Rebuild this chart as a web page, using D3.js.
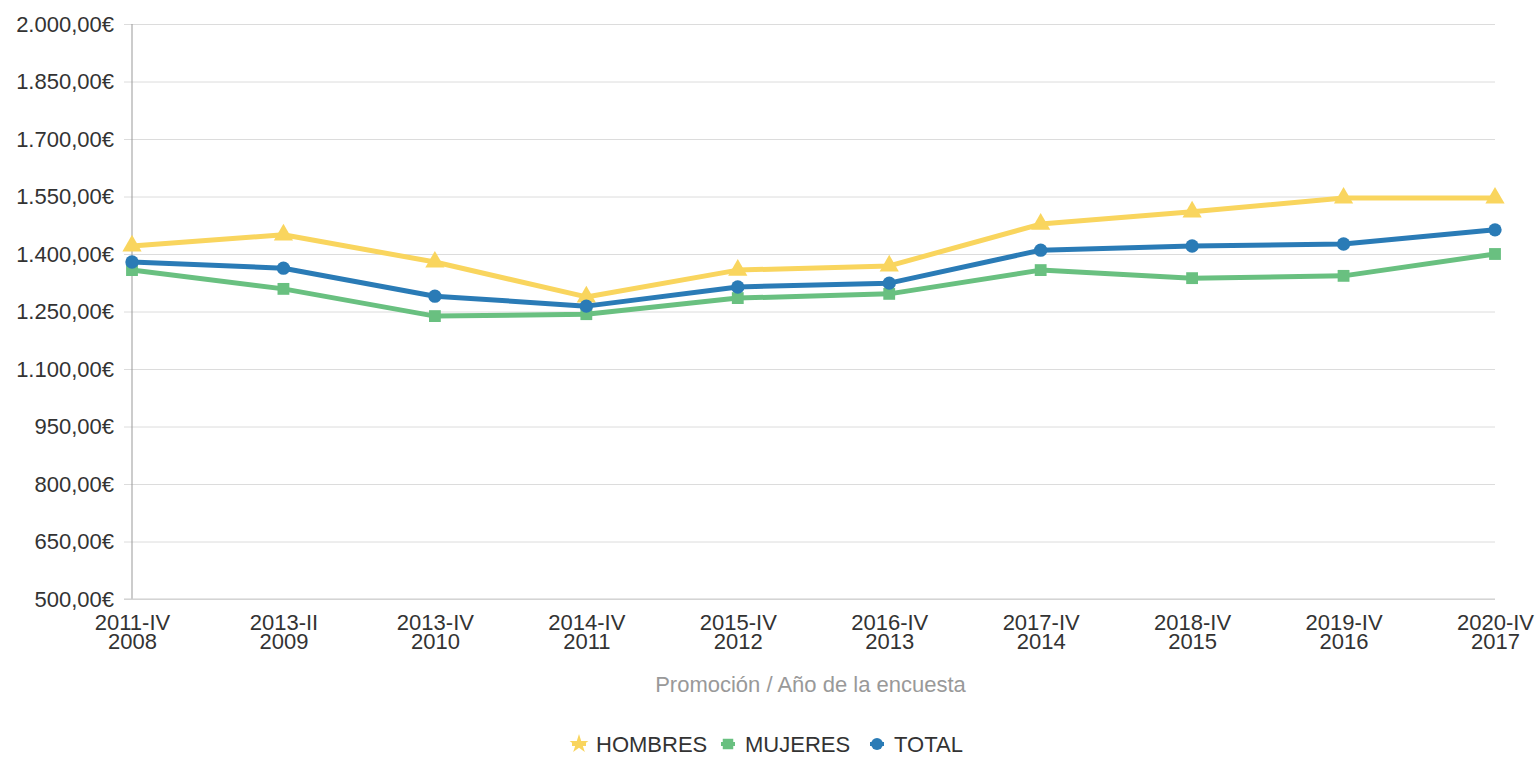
<!DOCTYPE html>
<html>
<head>
<meta charset="utf-8">
<script src="https://cdn.jsdelivr.net/npm/d3@7"></script>
<style>
  body { margin: 0; background: #fff; }
  svg { font-family: "Liberation Sans", Arial, sans-serif; }
</style>
</head>
<body>
<div id="chart"></div>
<script>
var WIDTH = 1536, HEIGHT = 761;
var margin = {top: 24, right: 41, bottom: 162, left: 132};

var categories = ["2011-IV|2008", "2013-II|2009", "2013-IV|2010", "2014-IV|2011", "2015-IV|2012",
  "2016-IV|2013", "2017-IV|2014", "2018-IV|2015", "2019-IV|2016", "2020-IV|2017"];
var hombres = [1421, 1450, 1379, 1288, 1358, 1369, 1478, 1510, 1546, 1546];
var mujeres = [1358, 1309, 1238, 1243, 1285, 1296, 1358, 1337, 1343, 1400];
var total = [1379, 1363, 1290, 1264, 1314, 1324, 1410, 1421, 1426, 1463];
var yTicks = [500, 650, 800, 950, 1100, 1250, 1400, 1550, 1700, 1850, 2000];

var series = [
  {name: "HOMBRES", values: hombres, color: "#f9d55e", symbol: d3.symbolTriangle, legendSymbol: d3.symbolStar},
  {name: "MUJERES", values: mujeres, color: "#69c080", symbol: d3.symbolSquare, legendSymbol: d3.symbolSquare},
  {name: "TOTAL", values: total, color: "#2a7bb6", symbol: d3.symbolCircle, legendSymbol: d3.symbolCircle}
];

var svg = d3.select("#chart").append("svg")
  .attr("width", WIDTH)
  .attr("height", HEIGHT);

var w = WIDTH - margin.left - margin.right;
var h = HEIGHT - margin.top - margin.bottom;

var g = svg.append("g")
  .attr("transform", "translate(" + margin.left + "," + margin.top + ")");

var x = d3.scalePoint().domain(categories).range([0, w]);
var y = d3.scaleLinear().domain([500, 2000]).range([h, 0]);

var fmt = function(v) {
  var s = d3.format(",.2f")(v);
  return s.replace(/,/g, "#").replace(".", ",").replace(/#/g, ".") + "€";
};

// grid + y axis
var yAxis = g.append("g")
  .attr("transform", "translate(-8,0)")
  .call(d3.axisLeft(y).tickValues(yTicks).tickSize(-w - 8).tickFormat(fmt));
yAxis.select(".domain").remove();
yAxis.selectAll(".tick line").attr("stroke", "#dcdcdc");
yAxis.selectAll(".tick text")
  .attr("fill", "#333")
  .attr("x", -10)
  .style("font-size", "22px")
  .style("font-family", "'Liberation Sans', Arial, sans-serif");

g.append("line")
  .attr("x1", 0).attr("x2", 0).attr("y1", 0).attr("y2", h)
  .attr("stroke", "#999").attr("stroke-width", 1);
g.append("line")
  .attr("x1", -8).attr("x2", w).attr("y1", h).attr("y2", h)
  .attr("stroke", "#ccc").attr("stroke-width", 1);

// x axis, two-line labels
var xAxis = g.append("g")
  .attr("transform", "translate(0," + h + ")")
  .call(d3.axisBottom(x).tickSize(0).tickFormat(""));
xAxis.select(".domain").remove();
xAxis.selectAll(".tick").each(function(d) {
  var parts = d.split("|");
  var t = d3.select(this).append("text")
    .attr("fill", "#333")
    .attr("text-anchor", "middle")
    .style("font-size", "22px")
    .style("font-family", "'Liberation Sans', Arial, sans-serif");
  t.append("tspan").attr("x", 0).attr("y", 31).text(parts[0]);
  t.append("tspan").attr("x", 0).attr("y", 50).text(parts[1]);
});

g.append("text")
  .attr("x", w / 2 - 3)
  .attr("y", h + 93)
  .attr("text-anchor", "middle")
  .attr("fill", "#999")
  .style("font-size", "22px")
  .text("Promoción / Año de la encuesta");

var line = d3.line()
  .x(function(d, i) { return x(categories[i]); })
  .y(function(d) { return y(d); });

series.forEach(function(s) {
  g.append("path")
    .attr("d", line(s.values))
    .style("fill", "none")
    .style("stroke", s.color)
    .style("stroke-width", 5)
    .style("stroke-linejoin", "round");
  g.selectAll(null)
    .data(s.values)
    .enter().append("path")
    .attr("transform", function(d, i) { return "translate(" + x(categories[i]) + "," + y(d) + ")"; })
    .attr("d", d3.symbol().type(s.symbol).size(s.symbol === d3.symbolTriangle ? 160 : 140))
    .attr("fill", s.color);
});

// legend
var legendX = [579, 728, 877];
var legend = svg.append("g");
series.forEach(function(s, i) {
  var lg = legend.append("g").attr("transform", "translate(" + legendX[i] + ",744)");
  lg.append("line").attr("x1", -7).attr("x2", 7).attr("stroke", s.color).attr("stroke-width", 4);
  lg.append("path")
    .attr("d", d3.symbol().type(s.legendSymbol).size(110))
    .attr("fill", s.color);
  lg.append("text")
    .attr("x", 17)
    .attr("y", 8)
    .attr("fill", "#333")
    .style("font-size", "22px")
    .text(s.name);
});
</script>
</body>
</html>
